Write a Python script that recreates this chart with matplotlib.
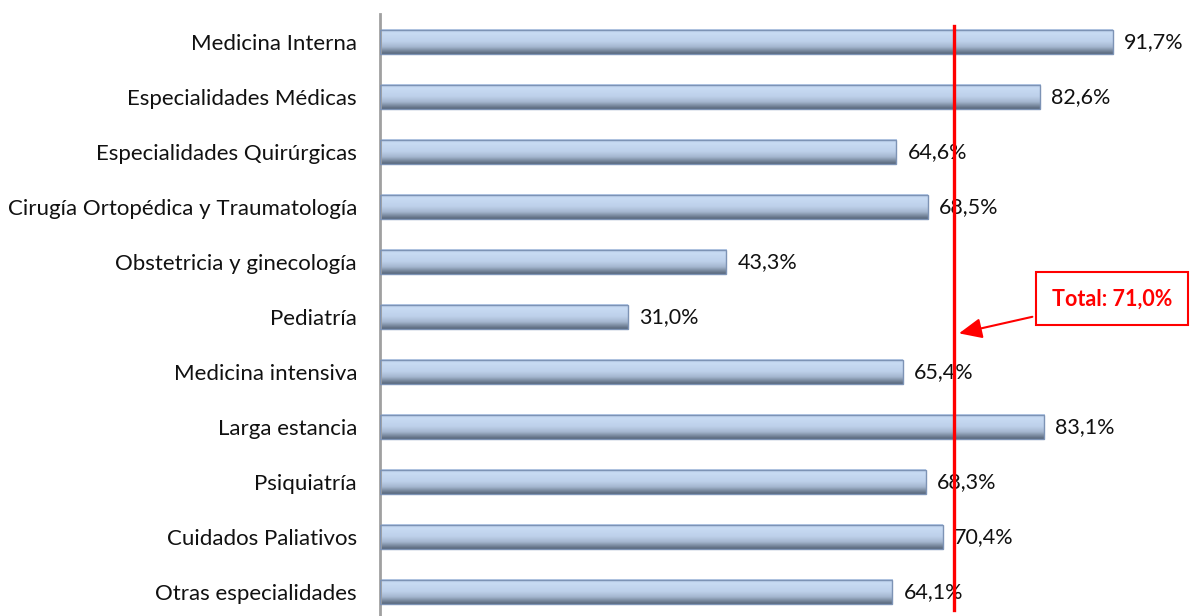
import numpy as np
import matplotlib.pyplot as plt
from matplotlib.colors import LinearSegmentedColormap

categorias = ['Medicina Interna', 'Especialidades Médicas', 'Especialidades Quirúrgicas',
              'Cirugía Ortopédica y Traumatología', 'Obstetricia y ginecología', 'Pediatría',
              'Medicina intensiva', 'Larga estancia', 'Psiquiatría', 'Cuidados Paliativos',
              'Otras especialidades']
valores = [91.7, 82.6, 64.6, 68.5, 43.3, 31.0, 65.4, 83.1, 68.3, 70.4, 64.1]
total = 71.0
etiquetas = [('%.1f%%' % v).replace('.', ',') for v in valores]

plt.rcParams['font.family'] = ['Lato', 'DejaVu Sans']

fig = plt.figure(figsize=(11.96, 6.16), dpi=100)
ax = fig.add_axes([380 / 1196, 0.0, 1 - 380 / 1196, 1 - 14 / 616])

y = np.arange(len(categorias))
alto = 0.44
# degradado vertical: azul claro arriba, gris azulado oscuro abajo
cmap = LinearSegmentedColormap.from_list(
    'barra', [(0, '#b9cde9'), (0.15, '#c8dbf3'), (0.5, '#bdd0ea'),
              (0.72, '#a4b6cf'), (0.88, '#77879c'), (1, '#56657a')])
grad = np.linspace(0, 1, 64).reshape(-1, 1)

bars = ax.barh(y, valores, height=alto, color='none', edgecolor='#7d93b5', linewidth=1.0, zorder=3)
for b in bars:
    x0, y0 = b.get_x(), b.get_y()
    w, h = b.get_width(), b.get_height()
    ax.imshow(grad, cmap=cmap, aspect='auto', extent=(x0, x0 + w, y0 + h, y0),
              origin='upper', zorder=2, interpolation='bicubic')

for yi, v, t in zip(y, valores, etiquetas):
    ax.text(v + 1.4, yi, t, va='center', ha='left', fontsize=15.5, color='#111111', zorder=4)

ax.axvline(total + 0.8, ymin=0.01, ymax=0.98, color='#ff0000', lw=2.4, zorder=5)

ax.annotate('Total: ' + ('%.1f%%' % total).replace('.', ','), xy=(total + 1.1, 5.31), xytext=(91.6, 4.67),
            ha='center', va='center', fontsize=15.5, fontweight='bold', color='#ff0000',
            bbox=dict(boxstyle='square,pad=0.75', fc='white', ec='#ff0000', lw=1.5),
            arrowprops=dict(arrowstyle='-|>,head_length=0.9,head_width=0.4', color='#ff0000', lw=1.5),
            zorder=6)

ax.set_xlim(0, (1196 - 380) / 7.993)
ax.set_ylim(10.44, -0.51)
ax.set_yticks(y)
ax.set_yticklabels(categorias, fontsize=16, color='#111111')
ax.tick_params(axis='y', length=0, pad=16.5)
ax.set_xticks([])
for s in ['top', 'right', 'bottom']:
    ax.spines[s].set_visible(False)
ax.spines['left'].set_color('#a0a0a0')
ax.spines['left'].set_linewidth(2)

fig.savefig('out.png', dpi=100)
